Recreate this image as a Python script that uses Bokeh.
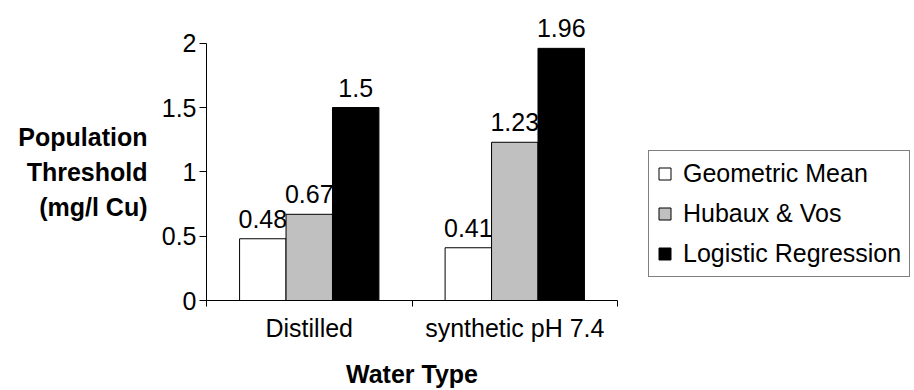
import numpy as np
from bokeh.plotting import figure
from bokeh.models import (ColumnDataSource, FixedTicker, Legend, LegendItem,
                          LinearAxis, Range1d)
from bokeh.core.properties import value
from bokeh.embed import file_html
from bokeh.resources import INLINE

# Data
water_types = ["Distilled", "synthetic pH 7.4"]
methods = ["Geometric Mean", "Hubaux & Vos", "Logistic Regression"]
geometric_mean = [0.48, 0.41]
hubaux_vos = [0.67, 1.23]
logistic_regression = [1.5, 1.96]
y_ticks = [0, 0.5, 1, 1.5, 2]
y_tick_labels = ["0", "0.5", "1", "1.5", "2"]
x_title = "Water Type"
y_title = "Population\nThreshold\n(mg/l Cu)"

fills = ["#ffffff", "#c0c0c0", "#000000"]
FONT = "Liberation Sans"
FS = "25px"
Y_MAX = max(y_ticks)

# The frame runs to the top and right edges of the canvas so that the value
# labels and the legend sit inside it; the axis lines are bounded to the data.
p = figure(width=914, height=390, output_backend="svg", toolbar_location=None,
           x_range=Range1d(0, 3.445), y_range=Range1d(0, 2.332),
           min_border_left=206, min_border_right=0,
           min_border_top=0, min_border_bottom=88)
p.outline_line_color = None
p.grid.grid_line_color = None
p.background_fill_color = "white"
p.border_fill_color = "white"

# Grouped bars: three series dodged around each category centre
bar_w = 0.226
offsets = [-bar_w, 0.0, bar_w]
series = [geometric_mean, hubaux_vos, logistic_regression]
centers = np.arange(len(water_types)) + 0.5
renderers = []
for name, vals, off, fill in zip(methods, series, offsets, fills):
    src = ColumnDataSource(dict(x=centers + off, top=vals,
                                label=[f"{v:g}" for v in vals]))
    r = p.vbar(x="x", top="top", width=bar_w, source=src,
               fill_color=fill, line_color="black", line_width=1)
    p.text(x="x", y="top", text="label", source=src,
           text_align="center", text_baseline="alphabetic", y_offset=-20,
           text_font=value(FONT), text_font_size=FS, text_color="black")
    renderers.append(r)

# Y axis
p.yaxis.ticker = FixedTicker(ticks=y_ticks)
p.yaxis.bounds = (0, Y_MAX)
p.yaxis.major_label_overrides = {float(t): s for t, s in zip(y_ticks, y_tick_labels)}
p.yaxis.minor_tick_line_color = None
p.yaxis.major_tick_in = 0
p.yaxis.major_tick_out = 7
p.yaxis.major_label_standoff = 3

# X axis: labels at category centres, tick marks at category boundaries
p.xaxis.ticker = FixedTicker(ticks=list(centers),
                             minor_ticks=list(range(len(water_types) + 1)))
p.xaxis.bounds = (0, len(water_types))
p.xaxis.major_label_overrides = {float(c): t for c, t in zip(centers, water_types)}
p.xaxis.major_tick_line_color = None
p.xaxis.major_tick_in = 0
p.xaxis.major_tick_out = 6
p.xaxis.minor_tick_in = 0
p.xaxis.minor_tick_out = 6
p.xaxis.minor_tick_line_color = "black"
p.xaxis.major_label_standoff = 7

for ax in p.axis:
    ax.axis_line_color = "black"
    ax.axis_line_width = 1
    ax.major_tick_line_width = 1
    ax.major_label_text_font = FONT
    ax.major_label_text_font_size = FS
    ax.major_label_text_color = "black"

# Axis titles: an extra unlined axis on each side carries a single bold label
# centred on the plotted span (mid-category on x, mid-scale on y).
def title_axis(ticks, labels, bounds, standoff):
    ax = LinearAxis(ticker=FixedTicker(ticks=ticks, minor_ticks=[]),
                    bounds=bounds,
                    major_label_overrides=dict(zip(ticks, labels)),
                    axis_line_color=None, major_tick_line_color=None,
                    minor_tick_line_color=None,
                    major_tick_in=0, major_tick_out=0,
                    major_label_standoff=standoff,
                    major_label_text_font=FONT, major_label_text_font_size=FS,
                    major_label_text_font_style="bold",
                    major_label_text_line_height=1.25,
                    major_label_text_color="black")
    return ax

p.add_layout(title_axis([len(water_types) / 2], [x_title], (0, len(water_types)), 15), "below")
p.add_layout(title_axis([Y_MAX / 2], [y_title], (0, Y_MAX), 11), "left")

legend = Legend(items=[LegendItem(label=m, renderers=[r]) for m, r in zip(methods, renderers)],
                location=(442, 23), orientation="vertical",
                label_text_font=FONT, label_text_font_size=FS, label_text_color="black",
                glyph_width=15, glyph_height=15, label_height=28, spacing=11,
                padding=8, margin=0, label_standoff=11,
                border_line_color="black", border_line_width=1,
                background_fill_color="white")
p.add_layout(legend)

open("out.html", "w").write(file_html(p, INLINE))
